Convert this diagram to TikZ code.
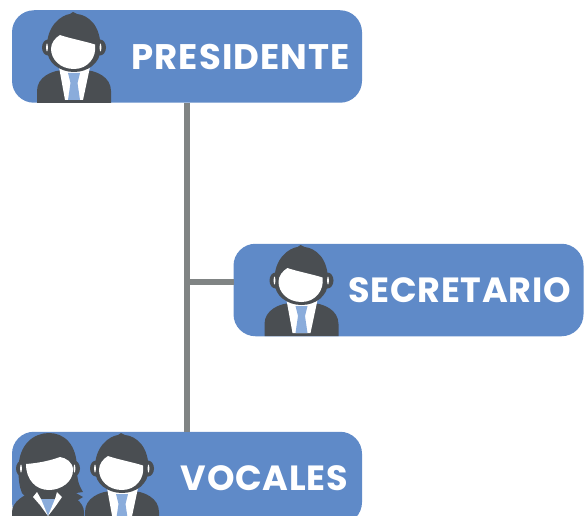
\documentclass[tikz,border=0pt]{standalone}
\usepackage{fontspec}
\setmainfont{Poppins}
\newfontfamily\labelwide[LetterSpace=3]{Poppins}
\newfontfamily\labelnarrow[LetterSpace=2]{Poppins}
\definecolor{boxblue}{HTML}{5F8AC8}
\definecolor{darkgrey}{HTML}{4A4E52}
\definecolor{tieblue}{HTML}{8AACDB}
\definecolor{linegrey}{HTML}{808484}
\tikzset{
  boxnode/.style={fill=boxblue,rounded corners=22pt,minimum width=350pt,minimum height=92.5pt,inner sep=0pt,draw=none},
  labelnode/.style={text=white,font=\fontsize{35}{35}\labelnarrow\bfseries,inner sep=0pt,anchor=east},
  labelwidenode/.style={labelnode,font=\fontsize{35.5}{35.5}\labelwide\bfseries},
  conn/.style={draw=linegrey,line width=6pt},
  earparts/.pic={
    \fill[darkgrey] (-26,-55.5) circle[x radius=6,y radius=8];
    \fill[darkgrey] (26,-55.5) circle[x radius=6,y radius=8];
  },
  earslits/.pic={
    \fill[white] (-27,-55.5) circle[x radius=0.9,y radius=4];
    \fill[white] (26.5,-55.5) circle[x radius=0.9,y radius=4];
  },
  manfig/.pic={
    % jacket
    \fill[darkgrey] (-37,0) -- (-37,-12) .. controls (-37,-26) and (-22,-33) .. (-9,-33) -- (9,-33) .. controls (22,-33) and (37,-26) .. (37,-12) -- (37,0) -- cycle;
    % shirt
    \fill[white] (-15,-36) -- (16,-36) -- (9,-3) -- (-9,-3) -- cycle;
    % tie
    \fill[tieblue] (-6,-30) -- (6,-30) -- (3.5,-20) -- (6,-3) -- (-6,-3) -- (-3.5,-20) -- cycle;
    \pic {earparts};
    % hair and head
    \fill[darkgrey] (-27,-54) .. controls (-28,-78) and (-12,-88) .. (-4,-89) -- (-1,-91) -- (3,-89) .. controls (14,-88) and (27,-78) .. (26.5,-54) .. controls (26.5,-40) and (14,-31) .. (0,-31) .. controls (-14,-31) and (-27,-40) .. (-27,-54) -- cycle;
    % face
    \fill[white] (-14,-68) .. controls (-6,-65) and (10,-62) .. (21,-58.5) .. controls (23,-46) and (14,-34) .. (0,-34) .. controls (-14,-34) and (-23,-44) .. (-23,-54) .. controls (-23,-60) and (-19,-65) .. (-14,-68) -- cycle;
    \pic {earslits};
  },
  womanfig/.pic={
    % jacket
    \fill[darkgrey] (-36,0) -- (-36,-12) .. controls (-36,-22) and (-24,-30) .. (-12,-33) -- (12,-33) .. controls (24,-30) and (36,-22) .. (36,-12) -- (36,0) -- cycle;
    % hair
    \fill[darkgrey] (-29.5,-55) .. controls (-29.5,-80) and (-14,-91) .. (1,-91) .. controls (16,-91) and (29,-80) .. (29,-55) .. controls (29,-46) and (30,-40) .. (35,-32) -- (28,-31) -- (35,-27) -- (27,-22) -- (20,-28) -- (-23,-28) -- (-26,-31) .. controls (-29,-38) and (-29.5,-46) .. (-29.5,-55) -- cycle;
    \pic {earparts};
    % neck area
    \fill[darkgrey] (-15,-40) rectangle (15,-27);
    % blouse
    \fill[tieblue] (-8,-25) -- (8,-25) -- (0,-8) -- cycle;
    % lapels
    \fill[white] (-11,-32) -- (-15,-27) -- (-8,-19) -- (0,-8) -- (-7,-25) -- cycle;
    \fill[white] (9,-32) -- (14,-27) -- (7,-17) -- (0,-8) -- (7,-25) -- cycle;
    % face
    \fill[white] (-22,-60) .. controls (-8,-61) and (4,-64) .. (12,-67) .. controls (18,-66) and (25,-62) .. (25,-54) .. controls (25,-42) and (13,-34) .. (1,-34) .. controls (-12,-34) and (-22,-44) .. (-22,-60) -- cycle;
    \pic {earslits};
  }
}
\begin{document}
\begin{tikzpicture}[x=1pt,y=-1pt]
\useasboundingbox (0,0) rectangle (586,516);
\clip (0,0) rectangle (586,516);
\node[boxnode] (pres) at (187,56.5) {};
\node[boxnode] (secr) at (408.5,290) {};
\node[boxnode] (voca) at (187,478) {};
\coordinate (junc) at (187,282);
\coordinate (secin) at (233.5,282);
\draw[conn] (pres.south) -- (voca.north);
\draw[conn] (junc) -- (secin);
\pic at (74,103) {manfig};
\pic at (301.5,336) {manfig};
\pic at (48,524) {womanfig};
\pic at (122,524) {manfig};
\node[labelwidenode] (tpres) at (350,57) {PRESIDENTE};
\node[labelnode] (tsecr) at (571,290) {SECRETARIO};
\node[labelnode] (tvoca) at (348,478) {VOCALES};
\end{tikzpicture}
\end{document}
